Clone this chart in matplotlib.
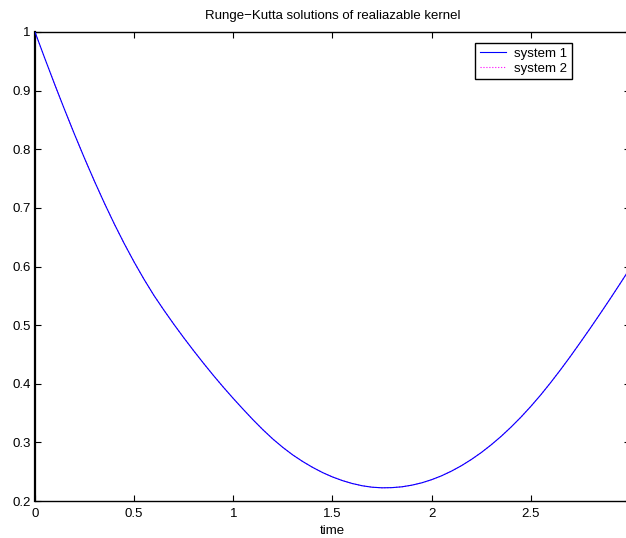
#########################################
#   Runge-Kutta solutions - kernel      #
#########################################

from matplotlib import pyplot as plt

plt.rcParams['font.family'] = ['Liberation Sans', 'DejaVu Sans']

time = [0.00, 0.05, 0.10, 0.15, 0.20, 0.25, 0.30, 0.35, 0.40, 0.45,
        0.50, 0.55, 0.60, 0.65, 0.70, 0.75, 0.80, 0.85, 0.90, 0.95,
        1.00, 1.05, 1.10, 1.15, 1.20, 1.25, 1.30, 1.35, 1.40, 1.45,
        1.50, 1.55, 1.60, 1.65, 1.70, 1.75, 1.80, 1.85, 1.90, 1.95,
        2.00, 2.05, 2.10, 2.15, 2.20, 2.25, 2.30, 2.35, 2.40, 2.45,
        2.50, 2.55, 2.60, 2.65, 2.70, 2.75, 2.80, 2.85, 2.90, 2.95,
        3.00]

system_1 = [1.0000, 0.9545, 0.9100, 0.8668, 0.8248, 0.7843, 0.7453, 0.7080, 0.6725, 0.6390,
            0.6075, 0.5780, 0.5505, 0.5255, 0.5015, 0.4785, 0.4563, 0.4348, 0.4140, 0.3940,
            0.3748, 0.3563, 0.3383, 0.3213, 0.3055, 0.2913, 0.2785, 0.2673, 0.2573, 0.2485,
            0.2410, 0.2348, 0.2298, 0.2260, 0.2235, 0.2225, 0.2228, 0.2242, 0.2270, 0.2310,
            0.2364, 0.2430, 0.2510, 0.2602, 0.2708, 0.2826, 0.2958, 0.3102, 0.3260, 0.3430,
            0.3614, 0.3810, 0.4020, 0.4240, 0.4469, 0.4707, 0.4949, 0.5197, 0.5449, 0.5707,
            0.5969]

# second system lands on the same curve (dotted, under the first one)
system_2 = [1.0000, 0.9545, 0.9100, 0.8668, 0.8248, 0.7843, 0.7453, 0.7080, 0.6725, 0.6390,
            0.6075, 0.5780, 0.5505, 0.5255, 0.5015, 0.4785, 0.4563, 0.4348, 0.4140, 0.3940,
            0.3748, 0.3563, 0.3383, 0.3213, 0.3055, 0.2913, 0.2785, 0.2673, 0.2573, 0.2485,
            0.2410, 0.2348, 0.2298, 0.2260, 0.2235, 0.2225, 0.2228, 0.2242, 0.2270, 0.2310,
            0.2364, 0.2430, 0.2510, 0.2602, 0.2708, 0.2826, 0.2958, 0.3102, 0.3260, 0.3430,
            0.3614, 0.3810, 0.4020, 0.4240, 0.4469, 0.4707, 0.4949, 0.5197, 0.5449, 0.5707,
            0.5969]

x_ticks = [0, 0.5, 1, 1.5, 2, 2.5]
x_labels = ['0', '0.5', '1', '1.5', '2', '2.5']
y_ticks = [0.2, 0.3, 0.4, 0.5, 0.6, 0.7, 0.8, 0.9, 1.0]
y_labels = ['0.2', '0.3', '0.4', '0.5', '0.6', '0.7', '0.8', '0.9', '1']

fig = plt.figure(figsize=(6.26, 5.38), dpi=100)
ax = fig.add_axes([35 / 626, 37 / 538, 595 / 626, 469 / 538])

ax.plot(time, system_1, color='#0000ff', linewidth=0.8, label='system 1', zorder=3)
ax.plot(time, system_2, color='#ff00ff', linestyle=':', linewidth=0.8, label='system 2', zorder=2)

ax.set_xlim(0, 3)
ax.set_ylim(0.2, 1)
ax.set_xticks(x_ticks)
ax.set_xticklabels(x_labels)
ax.set_yticks(y_ticks)
ax.set_yticklabels(y_labels)
ax.tick_params(direction='in', length=4, width=0.8, top=True, right=True, labelsize=9.5, colors='black')
ax.tick_params(axis='x', pad=5)
ax.tick_params(axis='y', pad=3)
for side in ['top', 'bottom', 'right']:
    ax.spines[side].set_linewidth(1.0)
ax.spines['left'].set_linewidth(1.6)

ax.set_title('Runge\u2212Kutta solutions of realiazable kernel', fontsize=9.5, pad=9)
ax.set_xlabel('time', fontsize=9.5, labelpad=4)

leg = ax.legend(loc='upper left', bbox_to_anchor=(475 / 626, 1 - 43 / 538),
                bbox_transform=fig.transFigure, fontsize=9.5, fancybox=False,
                framealpha=1, edgecolor='black', borderaxespad=0,
                handlelength=2.0, borderpad=0.35, labelspacing=0.2, handletextpad=0.6)
leg.get_frame().set_linewidth(1.0)

fig.savefig('out.png', dpi=100)
